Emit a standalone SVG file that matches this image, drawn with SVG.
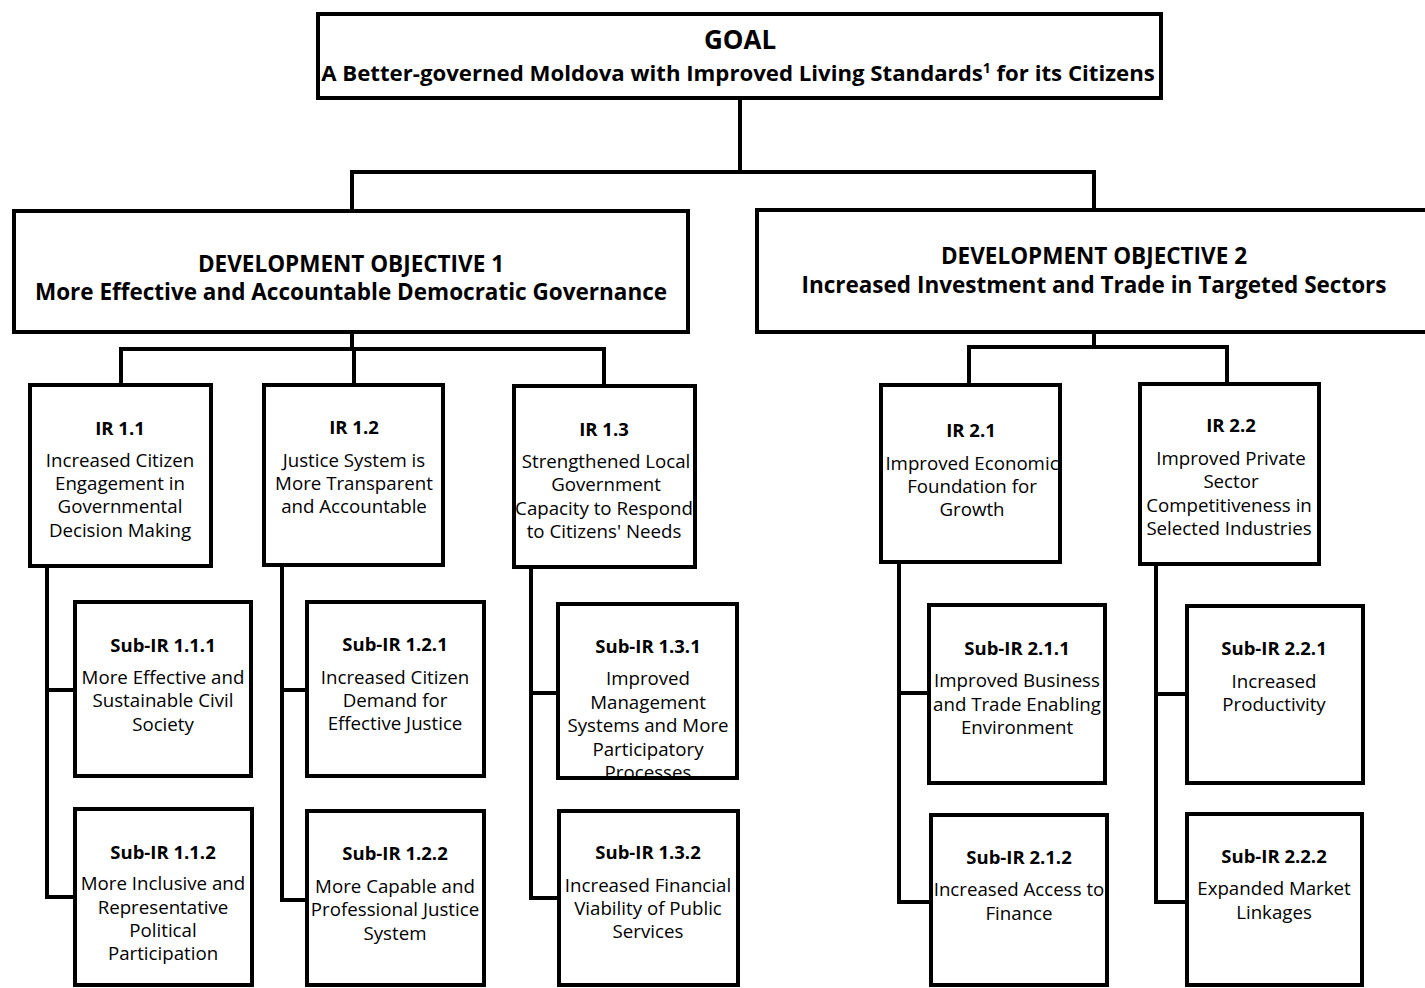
<svg xmlns="http://www.w3.org/2000/svg" width="1425" height="988" viewBox="0 0 1425 988">
<style>
.box{fill:#fff;stroke:#000;stroke-width:4}
.con{fill:none;stroke:#000;stroke-width:4;stroke-linejoin:miter;stroke-linecap:square}
text{font-family:"Open Sans","Noto Sans","Liberation Sans",sans-serif;fill:#000;text-anchor:middle}
.t{font-size:18.7px}
.b{font-size:18.5px;font-weight:bold}
.do{font-size:22.5px;font-weight:bold}
.goal{font-size:26px;font-weight:bold}
.gs{font-size:22.2px;font-weight:bold}
</style>
<defs>
<clipPath id="c131"><rect x="560" y="606" width="175" height="170"/></clipPath>
</defs>
<rect width="1425" height="988" fill="#fff"/>
<g id="connectors">
<path class="con" d="M740 100 V172 M352 209 V172 H1094 V208"/>
<path class="con" d="M352 334 V349 M121 383 V349 H604 V384 M354 349 V383"/>
<path class="con" d="M1094 334 V347 M969 383 V347 H1227 V382"/>
<path class="con" d="M47 568 V897 H73 M47 690 H73"/>
<path class="con" d="M282 567 V900 H305 M282 690 H305"/>
<path class="con" d="M531 569 V898 H557 M531 693 H556"/>
<path class="con" d="M899 564 V902 H929 M899 693 H927"/>
<path class="con" d="M1156 566 V902 H1185 M1156 694 H1185"/>
</g>
<g id="goal">
<rect class="box" x="318" y="14" width="843" height="84"/>
<text class="goal" x="740" y="49">GOAL</text>
<text class="gs" x="738" y="81">A Better-governed Moldova with Improved Living Standards<tspan font-size="14" dy="-8">1</tspan><tspan dy="8"> for its Citizens</tspan></text>
</g>
<g id="do1">
<rect class="box" x="14" y="211" width="674" height="121"/>
<text class="do" x="351" y="272">DEVELOPMENT OBJECTIVE 1</text>
<text class="do" x="351" y="300">More Effective and Accountable Democratic Governance</text>
</g>
<g id="do2">
<rect class="box" x="757" y="210" width="690" height="122"/>
<text class="do" x="1094" y="264">DEVELOPMENT OBJECTIVE 2</text>
<text class="do" x="1094" y="293">Increased Investment and Trade in Targeted Sectors</text>
</g>
<g id="ir11">
<rect class="box" x="30" y="385" width="181" height="181"/>
<text class="b" x="120" y="435">IR 1.1</text>
<text class="t" x="120" y="467">Increased Citizen</text>
<text class="t" x="120" y="490">Engagement in</text>
<text class="t" x="120" y="513">Governmental</text>
<text class="t" x="120" y="537">Decision Making</text>
</g>
<g id="ir12">
<rect class="box" x="264" y="385" width="179" height="180"/>
<text class="b" x="354" y="434">IR 1.2</text>
<text class="t" x="354" y="467">Justice System is</text>
<text class="t" x="354" y="490">More Transparent</text>
<text class="t" x="354" y="513">and Accountable</text>
</g>
<g id="ir13">
<rect class="box" x="514" y="386" width="181" height="181"/>
<text class="b" x="604" y="436">IR 1.3</text>
<text class="t" x="606" y="468">Strengthened Local</text>
<text class="t" x="606" y="491">Government</text>
<text class="t" x="604" y="515">Capacity to Respond</text>
<text class="t" x="604" y="538">to Citizens' Needs</text>
</g>
<g id="ir21">
<rect class="box" x="881" y="385" width="179" height="177"/>
<text class="b" x="971" y="437">IR 2.1</text>
<text class="t" x="972" y="470">Improved Economic</text>
<text class="t" x="972" y="493">Foundation for</text>
<text class="t" x="972" y="516">Growth</text>
</g>
<g id="ir22">
<rect class="box" x="1140" y="384" width="179" height="180"/>
<text class="b" x="1231" y="432">IR 2.2</text>
<text class="t" x="1231" y="465">Improved Private</text>
<text class="t" x="1231" y="488">Sector</text>
<text class="t" x="1229" y="512">Competitiveness in</text>
<text class="t" x="1229" y="535">Selected Industries</text>
</g>
<g id="sub111">
<rect class="box" x="75" y="602" width="176" height="174"/>
<text class="b" x="163" y="652">Sub-IR 1.1.1</text>
<text class="t" x="163" y="684">More Effective and</text>
<text class="t" x="163" y="707">Sustainable Civil</text>
<text class="t" x="163" y="731">Society</text>
</g>
<g id="sub112">
<rect class="box" x="75" y="809" width="177" height="176"/>
<text class="b" x="163" y="859">Sub-IR 1.1.2</text>
<text class="t" x="163" y="890">More Inclusive and</text>
<text class="t" x="163" y="914">Representative</text>
<text class="t" x="163" y="937">Political</text>
<text class="t" x="163" y="960">Participation</text>
</g>
<g id="sub121">
<rect class="box" x="307" y="602" width="177" height="174"/>
<text class="b" x="395" y="651">Sub-IR 1.2.1</text>
<text class="t" x="395" y="684">Increased Citizen</text>
<text class="t" x="395" y="707">Demand for</text>
<text class="t" x="395" y="730">Effective Justice</text>
</g>
<g id="sub122">
<rect class="box" x="307" y="811" width="177" height="174"/>
<text class="b" x="395" y="860">Sub-IR 1.2.2</text>
<text class="t" x="395" y="893">More Capable and</text>
<text class="t" x="395" y="916">Professional Justice</text>
<text class="t" x="395" y="940">System</text>
</g>
<g id="sub131">
<rect class="box" x="558" y="604" width="179" height="174"/>
<g clip-path="url(#c131)">
<text class="b" x="648" y="653">Sub-IR 1.3.1</text>
<text class="t" x="648" y="685">Improved</text>
<text class="t" x="648" y="709">Management</text>
<text class="t" x="648" y="732">Systems and More</text>
<text class="t" x="648" y="756">Participatory</text>
<text class="t" x="648" y="779">Processes</text>
</g>
</g>
<g id="sub132">
<rect class="box" x="559" y="811" width="179" height="174"/>
<text class="b" x="648" y="859">Sub-IR 1.3.2</text>
<text class="t" x="648" y="892">Increased Financial</text>
<text class="t" x="648" y="915">Viability of Public</text>
<text class="t" x="648" y="938">Services</text>
</g>
<g id="sub211">
<rect class="box" x="929" y="605" width="176" height="178"/>
<text class="b" x="1017" y="655">Sub-IR 2.1.1</text>
<text class="t" x="1017" y="687">Improved Business</text>
<text class="t" x="1017" y="711">and Trade Enabling</text>
<text class="t" x="1017" y="734">Environment</text>
</g>
<g id="sub212">
<rect class="box" x="931" y="815" width="176" height="170"/>
<text class="b" x="1019" y="864">Sub-IR 2.1.2</text>
<text class="t" x="1019" y="896">Increased Access to</text>
<text class="t" x="1019" y="920">Finance</text>
</g>
<g id="sub221">
<rect class="box" x="1187" y="606" width="176" height="177"/>
<text class="b" x="1274" y="655">Sub-IR 2.2.1</text>
<text class="t" x="1274" y="688">Increased</text>
<text class="t" x="1274" y="711">Productivity</text>
</g>
<g id="sub222">
<rect class="box" x="1187" y="814" width="175" height="171"/>
<text class="b" x="1274" y="863">Sub-IR 2.2.2</text>
<text class="t" x="1274" y="895">Expanded Market</text>
<text class="t" x="1274" y="919">Linkages</text>
</g>
</svg>
